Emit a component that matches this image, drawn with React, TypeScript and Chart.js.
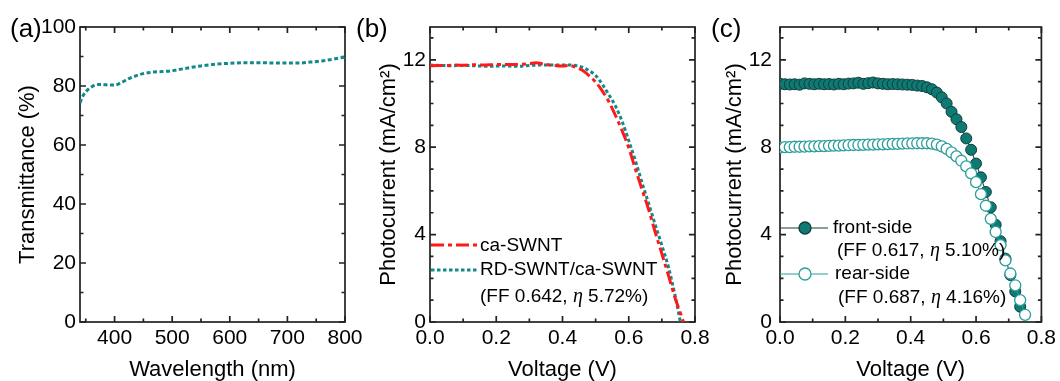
import { useEffect, useRef } from 'react';
import { Chart, registerables } from 'chart.js';

Chart.register(...registerables);

// ---------- Panel (a): transmittance ----------
const wavelength = [340, 345, 350, 355, 360, 366, 372, 378, 385, 392, 400, 408, 417, 426, 435, 444, 452, 462, 472, 482, 492, 504, 518, 533, 550, 570, 600, 630, 650, 680, 700, 720, 740, 760, 780, 800];
const transmittance = [74.3, 76.6, 78.0, 79.0, 79.7, 80.3, 80.5, 80.5, 80.4, 80.3, 80.3, 80.8, 81.7, 82.6, 83.3, 83.9, 84.3, 84.6, 84.8, 84.9, 85.0, 85.3, 85.8, 86.3, 86.8, 87.3, 87.7, 87.9, 87.9, 87.8, 87.8, 87.8, 88.1, 88.5, 89.1, 89.8];
const xTicksA = [400, 500, 600, 700, 800];
const xMinorA = [350, 450, 550, 650, 750];
const yTicksA = [0, 20, 40, 60, 80, 100];
const yMinorA = [10, 30, 50, 70, 90];

// ---------- Panel (b): J-V curves ----------
const voltCa = [0.0, 0.02, 0.05, 0.08, 0.10, 0.13, 0.16, 0.20, 0.24, 0.28, 0.30, 0.32, 0.34, 0.36, 0.38, 0.40, 0.42, 0.44, 0.46, 0.48, 0.50, 0.52, 0.54, 0.56, 0.58, 0.60, 0.62, 0.64, 0.66, 0.68, 0.70, 0.72, 0.74, 0.755, 0.765];
const currCa = [11.72, 11.74, 11.74, 11.76, 11.75, 11.77, 11.76, 11.78, 11.78, 11.80, 11.82, 11.86, 11.82, 11.76, 11.73, 11.72, 11.74, 11.66, 11.52, 11.28, 10.98, 10.58, 10.08, 9.45, 8.75, 7.97, 7.00, 6.07, 5.15, 4.10, 3.12, 2.12, 1.10, 0.45, 0.0];
const voltRd = [0.0, 0.03, 0.06, 0.10, 0.14, 0.18, 0.22, 0.26, 0.30, 0.34, 0.38, 0.42, 0.44, 0.46, 0.48, 0.50, 0.52, 0.54, 0.56, 0.58, 0.60, 0.62, 0.64, 0.66, 0.68, 0.70, 0.72, 0.74, 0.756];
const currRd = [11.76, 11.74, 11.73, 11.74, 11.72, 11.70, 11.72, 11.70, 11.74, 11.76, 11.76, 11.76, 11.74, 11.66, 11.50, 11.28, 10.88, 10.40, 9.88, 9.18, 8.30, 7.38, 6.38, 5.42, 4.45, 3.50, 2.50, 1.20, 0.0];
const xTicksV = [0, 0.2, 0.4, 0.6, 0.8];
const xMinorV = [0.1, 0.3, 0.5, 0.7];
const yTicksI = [0, 4, 8, 12];
const yMinorI = [1, 2, 3, 5, 6, 7, 9, 10, 11, 13];

// ---------- Panel (c): front / rear ----------
const voltFront = [0.000, 0.015, 0.030, 0.045, 0.060, 0.075, 0.090, 0.105, 0.120, 0.135, 0.150, 0.165, 0.180, 0.195, 0.210, 0.225, 0.240, 0.255, 0.270, 0.285, 0.300, 0.315, 0.330, 0.345, 0.360, 0.375, 0.390, 0.405, 0.420, 0.435, 0.450, 0.465, 0.480, 0.495, 0.510, 0.525, 0.540, 0.555, 0.570, 0.585, 0.600, 0.615, 0.630, 0.645, 0.660, 0.675, 0.690, 0.705, 0.720, 0.735];
const currFront = [10.90, 10.88, 10.87, 10.88, 10.86, 10.92, 10.90, 10.88, 10.90, 10.88, 10.89, 10.87, 10.90, 10.88, 10.91, 10.92, 10.95, 10.90, 10.93, 10.96, 10.92, 10.90, 10.88, 10.89, 10.88, 10.87, 10.86, 10.85, 10.82, 10.80, 10.74, 10.65, 10.50, 10.28, 10.00, 9.62, 9.28, 8.92, 8.40, 7.88, 7.25, 6.62, 5.95, 5.25, 4.45, 3.70, 2.90, 2.15, 1.40, 0.70];
const voltRear = [0.000, 0.015, 0.030, 0.045, 0.060, 0.075, 0.090, 0.105, 0.120, 0.135, 0.150, 0.165, 0.180, 0.195, 0.210, 0.225, 0.240, 0.255, 0.270, 0.285, 0.300, 0.315, 0.330, 0.345, 0.360, 0.375, 0.390, 0.405, 0.420, 0.435, 0.450, 0.465, 0.480, 0.495, 0.510, 0.525, 0.540, 0.555, 0.570, 0.585, 0.600, 0.615, 0.630, 0.645, 0.660, 0.675, 0.690, 0.705, 0.720, 0.735, 0.750];
const currRear = [7.98, 8.00, 8.00, 8.02, 8.02, 8.03, 8.04, 8.04, 8.05, 8.05, 8.06, 8.07, 8.07, 8.08, 8.09, 8.10, 8.10, 8.11, 8.12, 8.12, 8.13, 8.13, 8.14, 8.15, 8.15, 8.16, 8.17, 8.17, 8.18, 8.18, 8.18, 8.16, 8.12, 8.04, 7.92, 7.76, 7.58, 7.38, 7.12, 6.80, 6.40, 5.85, 5.32, 4.72, 4.12, 3.52, 2.82, 2.22, 1.68, 1.00, 0.33];

const FONT = "'Liberation Sans', Arial, sans-serif";
const SERIF = "'Liberation Serif', 'DejaVu Serif', serif";
const TXT = '#000000';
const FRAME = '#222222';
const TEAL = '#138a8a';
const RED = '#ff1a1a';
const FRONT_FILL = '#0d7b74';
const FRONT_EDGE = '#123c3a';
const REAR_EDGE = '#2a9e9b';

const pts = (xs: number[], ys: number[]) => xs.map((x, i) => ({ x, y: ys[i] }));

type Part = [string, boolean];

function drawRich(ctx: CanvasRenderingContext2D, x: number, y: number, parts: Part[], size: number) {
  let cx = x;
  ctx.textBaseline = 'middle';
  ctx.textAlign = 'left';
  ctx.fillStyle = TXT;
  for (const [t, it] of parts) {
    ctx.font = it ? `italic ${size + 1}px ${SERIF}` : `${size}px ${FONT}`;
    ctx.fillText(t, cx, y);
    cx += ctx.measureText(t).width;
  }
}

function framePlugin(minorX: number[], minorY: number[], label: string, labelX: number, legend: (c: Chart) => void) {
  return {
    id: 'frameTicks',
    beforeDatasetsDraw(chart: any) {
      const { ctx, chartArea, scales } = chart;
      const { left, right, top, bottom } = chartArea;
      const x = scales.x, y = scales.y;
      ctx.save();
      ctx.strokeStyle = FRAME;
      ctx.lineWidth = 1.7;
      const major = 6, minor = 3.5;
      const xt = (v: number, len: number) => {
        const p = x.getPixelForValue(v);
        ctx.beginPath();
        ctx.moveTo(p, bottom); ctx.lineTo(p, bottom - len);
        ctx.moveTo(p, top); ctx.lineTo(p, top + len);
        ctx.stroke();
      };
      const yt = (v: number, len: number) => {
        const p = y.getPixelForValue(v);
        ctx.beginPath();
        ctx.moveTo(left, p); ctx.lineTo(left + len, p);
        ctx.moveTo(right, p); ctx.lineTo(right - len, p);
        ctx.stroke();
      };
      x.ticks.forEach((t: any) => xt(t.value, major));
      minorX.forEach((v) => xt(v, minor));
      y.ticks.forEach((t: any) => yt(t.value, major));
      minorY.forEach((v) => yt(v, minor));
      ctx.strokeRect(left, top, right - left, bottom - top);
      ctx.restore();
    },
    afterDraw(chart: any) {
      const ctx = chart.ctx;
      ctx.save();
      ctx.fillStyle = TXT;
      ctx.font = `26px ${FONT}`;
      ctx.textBaseline = 'middle';
      ctx.textAlign = 'left';
      ctx.fillText(label, labelX, 30);
      legend(chart);
      ctx.restore();
    },
  };
}

interface PanelSpec {
  datasets: any[];
  xMin: number; xMax: number; yMin: number; yMax: number;
  xTicks: number[]; yTicks: number[]; xMinor: number[]; yMinor: number[];
  xFmt: (v: number) => string;
  padLeft: number; padRight: number; yWidth: number; yLabelPad: number; yTitlePad: number;
  xTitle: string; yTitle: string; label: string; labelX: number;
  legend: (c: Chart) => void;
}

function makeConfig(p: PanelSpec): any {
  return {
    type: 'line',
    data: { datasets: p.datasets },
    options: {
      animation: false,
      responsive: false,
      maintainAspectRatio: false,
      layout: { padding: { left: p.padLeft, right: p.padRight, top: 27, bottom: 0 } },
      plugins: { legend: { display: false }, tooltip: { enabled: false } },
      elements: { point: { radius: 0 } },
      scales: {
        x: {
          type: 'linear',
          min: p.xMin,
          max: p.xMax,
          afterBuildTicks: (s: any) => { s.ticks = p.xTicks.map((v) => ({ value: v })); },
          afterFit: (s: any) => { s.height = 59; },
          grid: { display: false, drawTicks: false },
          border: { display: false },
          ticks: {
            padding: 4,
            color: TXT,
            maxRotation: 0,
            autoSkip: false,
            font: { family: FONT, size: 21 },
            callback: (v: any) => p.xFmt(Number(v)),
          },
          title: { display: true, text: p.xTitle, color: TXT, font: { family: FONT, size: 22 }, padding: { top: 0, bottom: -2 } },
        },
        y: {
          type: 'linear',
          min: p.yMin,
          max: p.yMax,
          afterBuildTicks: (s: any) => { s.ticks = p.yTicks.map((v) => ({ value: v })); },
          afterFit: (s: any) => { s.width = p.yWidth; },
          grid: { display: false, drawTicks: false },
          border: { display: false },
          ticks: {
            padding: p.yLabelPad,
            color: TXT,
            autoSkip: false,
            font: { family: FONT, size: 21 },
            callback: (v: any) => String(v),
          },
          title: { display: true, text: p.yTitle, color: TXT, font: { family: FONT, size: 22 }, padding: { top: p.yTitlePad, bottom: 0 } },
        },
      },
    },
    plugins: [framePlugin(p.xMinor, p.yMinor, p.label, p.labelX, p.legend)],
  };
}

const W = 1060, H = 381;

export default function App() {
  const ra = useRef<HTMLCanvasElement>(null);
  const rb = useRef<HTMLCanvasElement>(null);
  const rc = useRef<HTMLCanvasElement>(null);

  useEffect(() => {
    const charts: Chart[] = [];

    // Panel (a)
    charts.push(new Chart(ra.current!, makeConfig({
      datasets: [{
        data: pts(wavelength, transmittance),
        borderColor: TEAL, borderWidth: 3, borderDash: [4, 2.5], fill: false,
        cubicInterpolationMode: 'monotone', pointRadius: 0,
      }],
      xMin: 340, xMax: 800, yMin: 0, yMax: 100,
      xTicks: xTicksA, yTicks: yTicksA, xMinor: xMinorA, yMinor: yMinorA,
      xFmt: (v) => String(v),
      padLeft: 0, padRight: W - 345, yWidth: 80, yLabelPad: 4, yTitlePad: 15,
      xTitle: 'Wavelength (nm)', yTitle: 'Transmittance (%)', label: '(a)', labelX: 10,
      legend: () => {},
    })));

    // Panel (b)
    charts.push(new Chart(rb.current!, makeConfig({
      datasets: [
        {
          data: pts(voltCa, currCa),
          borderColor: RED, borderWidth: 3, borderDash: [13, 4, 4, 4], fill: false,
          cubicInterpolationMode: 'monotone', pointRadius: 0,
        },
        {
          data: pts(voltRd, currRd),
          borderColor: TEAL, borderWidth: 3, borderDash: [3.5, 2.5], fill: false,
          cubicInterpolationMode: 'monotone', pointRadius: 0,
        },
      ],
      xMin: 0, xMax: 0.8, yMin: 0, yMax: 13.5,
      xTicks: xTicksV, yTicks: yTicksI, xMinor: xMinorV, yMinor: yMinorI,
      xFmt: (v) => v.toFixed(1),
      padLeft: 355, padRight: W - 695, yWidth: 75, yLabelPad: 4, yTitlePad: 21,
      xTitle: 'Voltage (V)', yTitle: 'Photocurrent (mA/cm²)', label: '(b)', labelX: 356,
      legend: (c: any) => {
        const ctx = c.ctx as CanvasRenderingContext2D;
        const L = c.chartArea.left;
        ctx.lineWidth = 3;
        ctx.strokeStyle = RED;
        ctx.setLineDash([13, 4, 4, 4]);
        ctx.beginPath(); ctx.moveTo(L + 1, 245); ctx.lineTo(L + 47, 245); ctx.stroke();
        ctx.strokeStyle = TEAL;
        ctx.setLineDash([3.5, 2.5]);
        ctx.beginPath(); ctx.moveTo(L + 1, 270); ctx.lineTo(L + 47, 270); ctx.stroke();
        ctx.setLineDash([]);
        drawRich(ctx, L + 50, 246, [['ca-SWNT', false]], 19);
        drawRich(ctx, L + 50, 270, [['RD-SWNT/ca-SWNT', false]], 19);
        drawRich(ctx, L + 50, 297, [['(FF 0.642, ', false], ['η', true], [' 5.72%)', false]], 19);
      },
    })));

    // Panel (c)
    charts.push(new Chart(rc.current!, makeConfig({
      datasets: [
        {
          data: pts(voltRear, currRear),
          borderColor: REAR_EDGE, borderWidth: 1, fill: false,
          pointRadius: 5.5, pointBorderWidth: 1.3, pointBackgroundColor: '#ffffff', pointBorderColor: REAR_EDGE,
          tension: 0,
        },
        {
          data: pts(voltFront, currFront),
          borderColor: FRONT_EDGE, borderWidth: 1, fill: false,
          pointRadius: 5.5, pointBorderWidth: 1, pointBackgroundColor: FRONT_FILL, pointBorderColor: FRONT_EDGE,
          tension: 0,
        },
      ],
      xMin: 0, xMax: 0.8, yMin: 0, yMax: 13.5,
      xTicks: xTicksV, yTicks: yTicksI, xMinor: xMinorV, yMinor: yMinorI,
      xFmt: (v) => v.toFixed(1),
      padLeft: 710, padRight: W - 1045, yWidth: 70, yLabelPad: 8, yTitlePad: 12,
      xTitle: 'Voltage (V)', yTitle: 'Photocurrent (mA/cm²)', label: '(c)', labelX: 711,
      legend: (c: any) => {
        const ctx = c.ctx as CanvasRenderingContext2D;
        const L = c.chartArea.left;
        const sample = (y: number, edge: string, fill: string) => {
          ctx.lineWidth = 1.2;
          ctx.strokeStyle = edge;
          ctx.beginPath(); ctx.moveTo(L, y); ctx.lineTo(L + 48, y); ctx.stroke();
          ctx.beginPath(); ctx.arc(L + 25, y, 6, 0, Math.PI * 2);
          ctx.fillStyle = fill; ctx.fill();
          ctx.lineWidth = 1.3; ctx.stroke();
        };
        sample(228, FRONT_EDGE, FRONT_FILL);
        sample(274, REAR_EDGE, '#ffffff');
        drawRich(ctx, L + 53, 228, [['front-side', false]], 19);
        drawRich(ctx, L + 57, 251, [['(FF 0.617, ', false], ['η', true], [' 5.10%)', false]], 19);
        drawRich(ctx, L + 55, 274, [['rear-side', false]], 19);
        drawRich(ctx, L + 58, 298, [['(FF 0.687, ', false], ['η', true], [' 4.16%)', false]], 19);
      },
    })));

    return () => { charts.forEach((ch) => ch.destroy()); };
  }, []);

  const cs: any = { position: 'absolute', left: 0, top: 0, width: W, height: H };
  return (
    <div style={{ position: 'absolute', left: 0, top: 0, width: W, height: H, background: '#ffffff', overflow: 'hidden' }}>
      <canvas ref={ra} width={W} height={H} style={cs} />
      <canvas ref={rb} width={W} height={H} style={cs} />
      <canvas ref={rc} width={W} height={H} style={cs} />
    </div>
  );
}
